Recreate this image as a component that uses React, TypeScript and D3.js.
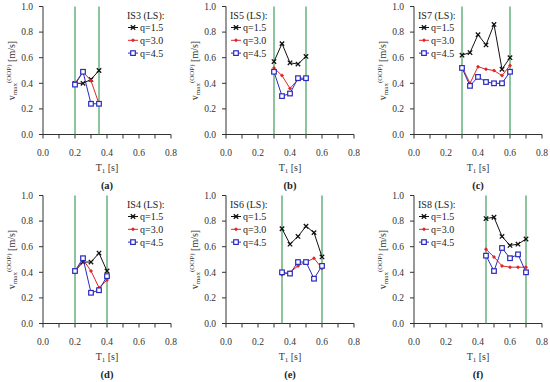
import React from "react";
import { scaleLinear, line, range } from "d3";

// panel data
const panelNames = ["IS3", "IS5", "IS7", "IS4", "IS6", "IS8"];
const panelLetters = ["(a)", "(b)", "(c)", "(d)", "(e)", "(f)"];
const periods = [
  [0.2, 0.25, 0.3, 0.35],
  [0.3, 0.35, 0.4, 0.45, 0.5],
  [0.3, 0.35, 0.4, 0.45, 0.5, 0.55, 0.6],
  [0.2, 0.25, 0.3, 0.35, 0.4],
  [0.35, 0.4, 0.45, 0.5, 0.55, 0.6],
  [0.45, 0.5, 0.55, 0.6, 0.65, 0.7],
];
const q15 = [
  [0.4, 0.4, 0.43, 0.5],
  [0.57, 0.71, 0.56, 0.55, 0.61],
  [0.62, 0.64, 0.78, 0.7, 0.86, 0.51, 0.6],
  [0.41, 0.48, 0.48, 0.55, 0.41],
  [0.74, 0.62, 0.68, 0.76, 0.71, 0.52],
  [0.82, 0.83, 0.68, 0.61, 0.62, 0.66],
];
const q30 = [
  [0.4, 0.49, 0.42, 0.24],
  [0.52, 0.46, 0.36, 0.43, 0.43],
  [0.53, 0.4, 0.53, 0.51, 0.5, 0.46, 0.54],
  [0.4, 0.5, 0.41, 0.28, 0.34],
  [0.38, 0.4, 0.45, 0.48, 0.51, 0.43],
  [0.58, 0.52, 0.45, 0.44, 0.44, 0.44],
];
const q45 = [
  [0.39, 0.49, 0.24, 0.24],
  [0.49, 0.3, 0.32, 0.44, 0.44],
  [0.52, 0.38, 0.45, 0.41, 0.4, 0.4, 0.49],
  [0.41, 0.51, 0.24, 0.26, 0.37],
  [0.4, 0.39, 0.48, 0.48, 0.35, 0.45],
  [0.53, 0.41, 0.59, 0.51, 0.54, 0.4],
];
const limits = [
  [0.2, 0.35],
  [0.3, 0.5],
  [0.3, 0.6],
  [0.2, 0.4],
  [0.35, 0.6],
  [0.45, 0.7],
];
const legendRight = [true, false, false, true, false, false];
const seriesLabels = ["q=1.5", "q=3.0", "q=4.5"];
const seriesColors = ["#111111", "#e0262a", "#2a2ac0"];
const xTicks = [0, 0.2, 0.4, 0.6, 0.8];
const yTicks = [0, 0.2, 0.4, 0.6, 0.8, 1.0];

const FONT = "'Liberation Serif', 'Times New Roman', serif";
const W = 550;
const H = 382;
const colX = [0, 183, 371];
const rowY = [0, 189];
const plotW = 128;
const plotH = 128;
const left = 43;
const top = 6.5;

function Marker({ kind, x, y, color }: any) {
  if (kind === 0) {
    const s = 2.2;
    return (
      <path
        d={`M${x - s},${y - s}L${x + s},${y + s}M${x - s},${y + s}L${x + s},${y - s}`}
        stroke={color}
        strokeWidth={1.3}
      />
    );
  }
  if (kind === 1) {
    const s = 2;
    return (
      <path
        d={`M${x},${y - s}L${x + s},${y}L${x},${y + s}L${x - s},${y}Z`}
        fill={color}
      />
    );
  }
  return (
    <rect x={x - 2.3} y={y - 2.3} width={4.6} height={4.6} fill="white" stroke={color} strokeWidth={1.2} />
  );
}

function Panel({ i }: { i: number }) {
  const ox = colX[i % 3];
  const oy = rowY[Math.floor(i / 3)];
  const x = scaleLinear().domain([0, 0.8]).range([left, left + plotW]);
  const y = scaleLinear().domain([0, 1]).range([top + plotH, top]);
  const allSeries = [q15[i], q30[i], q45[i]];
  const lineGen = line<number>()
    .x((_, k) => x(periods[i][k]))
    .y((v) => y(v));
  const lgX = legendRight[i] ? left + 84 : left + 4;

  return (
    <g transform={`translate(${ox},${oy})`}>
      {/* axes */}
      <line x1={left} x2={left} y1={top} y2={top + plotH} stroke="#333" strokeWidth={1} />
      <line x1={left} x2={left + plotW} y1={top + plotH} y2={top + plotH} stroke="#333" strokeWidth={1} />
      {yTicks.map((t) => (
        <g key={`y${t}`}>
          <line x1={left - 4} x2={left} y1={y(t)} y2={y(t)} stroke="#333" />
          <text x={left - 10} y={y(t)} dy="0.35em" textAnchor="end" fontSize={9.5} fontFamily={FONT} fill="#333">
            {t.toFixed(1)}
          </text>
        </g>
      ))}
      {range(0, 9).map((k) => (
        <line key={`xt${k}`} x1={x(k / 10)} x2={x(k / 10)} y1={top + plotH} y2={top + plotH + 4} stroke="#333" />
      ))}
      {xTicks.map((t) => (
        <text key={`x${t}`} x={x(t)} y={top + plotH + 18} dy="0.35em" textAnchor="middle" fontSize={9.5} fontFamily={FONT} fill="#333">
          {t.toFixed(1)}
        </text>
      ))}
      <text x={left + plotW / 2} y={top + plotH + 33} dy="0.35em" textAnchor="middle" fontSize={10} fontFamily={FONT} fill="#333">
        T<tspan fontSize={7} dy="2">1</tspan>
        <tspan dy="-2"> [s]</tspan>
      </text>
      <text
        transform={`translate(11,${top + plotH / 2}) rotate(-90)`}
        textAnchor="middle"
        dy="0.35em"
        fontSize={10}
        fontFamily={FONT}
        fill="#333"
      >
        v<tspan fontSize={7} dy="2">max</tspan>
        <tspan fontSize={7} dy="-6">(OOP)</tspan>
        <tspan dy="4"> [m/s]</tspan>
      </text>
      <text x={left + plotW / 2} y={top + plotH + 51} dy="0.35em" textAnchor="middle" fontSize={10.5} fontWeight="bold" fontFamily={FONT} fill="#222">
        {panelLetters[i]}
      </text>

      {/* period limits */}
      {limits[i].map((t) => (
        <line key={`g${t}`} x1={x(t)} x2={x(t)} y1={top} y2={top + plotH} stroke="#3e9d5c" strokeWidth={1.2} />
      ))}

      {/* series */}
      {allSeries.map((vals, s) => (
        <g key={`s${s}`}>
          <path d={lineGen(vals) || ""} fill="none" stroke={seriesColors[s]} strokeWidth={1} />
          {vals.map((v, k) => (
            <Marker key={k} kind={s} x={x(periods[i][k])} y={y(v)} color={seriesColors[s]} />
          ))}
        </g>
      ))}

      {/* legend */}
      <text x={lgX} y={15} dy="0.35em" fontSize={10} fontFamily={FONT} fill="#222">
        {panelNames[i]} (LS):
      </text>
      {seriesLabels.map((lab, s) => {
        const ly = 27.5 + s * 12.8;
        return (
          <g key={lab}>
            <line x1={lgX + 1} x2={lgX + 11} y1={ly} y2={ly} stroke={seriesColors[s]} strokeWidth={1} />
            <Marker kind={s} x={lgX + 6} y={ly} color={seriesColors[s]} />
            <text x={lgX + 13} y={ly} dy="0.35em" fontSize={10} fontFamily={FONT} fill="#222">
              {lab}
            </text>
          </g>
        );
      })}
    </g>
  );
}

export default function App() {
  return (
    <svg width={W} height={H} style={{ position: "absolute", left: 0, top: 0, background: "white" }}>
      {range(0, 6).map((i) => (
        <Panel key={i} i={i} />
      ))}
    </svg>
  );
}
